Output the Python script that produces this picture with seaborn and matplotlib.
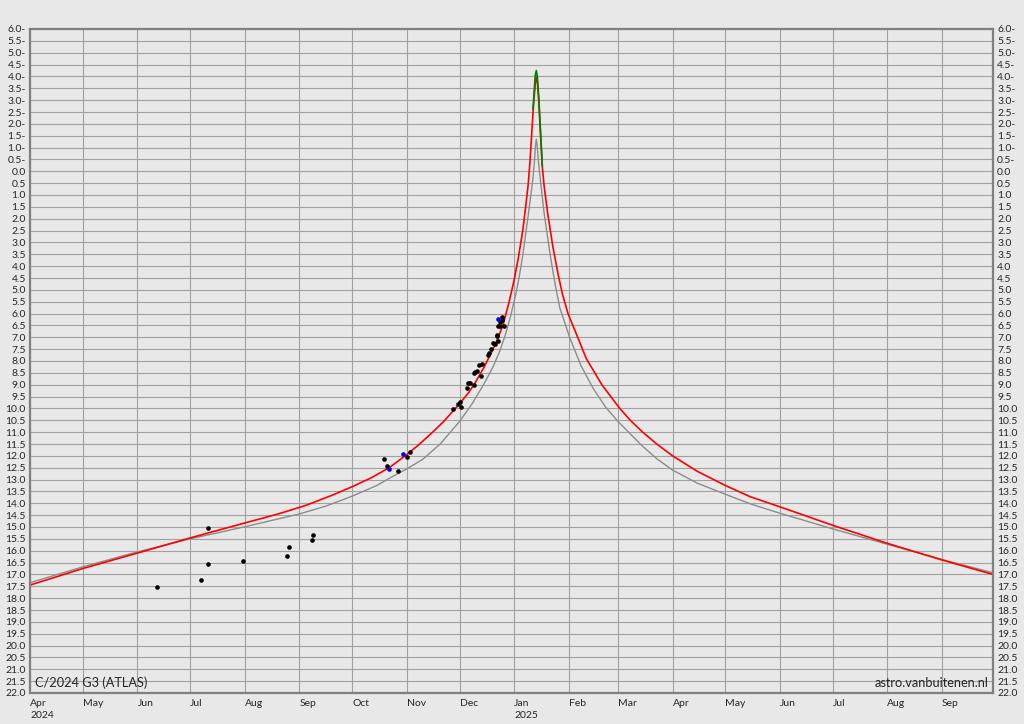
import pandas as pd
import matplotlib
matplotlib.use('Agg')
import matplotlib.pyplot as plt
import seaborn as sns

# Model curve (red): date, magnitude
red_dates = ['2024-04-01', '2024-05-01', '2024-06-01', '2024-07-01', '2024-08-01', '2024-08-20',
             '2024-09-05', '2024-09-20', '2024-10-01', '2024-10-12', '2024-10-22', '2024-11-01',
             '2024-11-08', '2024-11-15', '2024-11-22', '2024-12-01', '2024-12-06', '2024-12-10',
             '2024-12-15', '2024-12-20', '2024-12-23', '2024-12-26', '2024-12-29', '2025-01-01',
             '2025-01-03 12:00', '2025-01-06', '2025-01-08', '2025-01-09', '2025-01-10', '2025-01-11',
             '2025-01-12', '2025-01-13', '2025-01-13 14:00', '2025-01-14 06:00', '2025-01-15',
             '2025-01-16', '2025-01-17', '2025-01-18', '2025-01-20', '2025-01-23',
             '2025-01-26', '2025-01-28 12:00', '2025-01-31 14:00', '2025-02-05', '2025-02-11',
             '2025-02-20', '2025-03-02', '2025-03-08', '2025-03-15', '2025-03-23', '2025-04-01',
             '2025-04-15', '2025-05-01', '2025-05-15', '2025-06-01', '2025-07-01', '2025-08-01',
             '2025-09-01', '2025-09-30']
red_mags = [17.45, 16.75, 16.10, 15.46, 14.83, 14.45,
            14.08, 13.65, 13.30, 12.92, 12.50, 11.95,
            11.52, 11.05, 10.55, 9.80, 9.35, 8.90,
            8.25, 7.50, 7.00, 6.40, 5.55, 4.59,
            3.60, 2.45, 1.20, 0.55, -0.40, -1.60,
            -2.80, -3.70, -4.00, -3.70, -2.95,
            -1.55, -0.20, 0.60, 1.75, 3.18,
            4.35, 5.20, 6.00, 6.80, 7.90,
            9.02, 10.00, 10.50, 11.00, 11.50, 12.00,
            12.65, 13.25, 13.72, 14.15, 14.93, 15.69,
            16.39, 17.00]

# Second model curve (gray)
gray_dates = ['2024-04-01', '2024-05-01', '2024-06-01', '2024-07-01', '2024-08-01', '2024-09-01',
              '2024-09-16', '2024-10-01', '2024-10-15', '2024-10-22', '2024-11-01', '2024-11-10',
              '2024-11-20', '2024-12-01', '2024-12-08', '2024-12-15', '2024-12-20', '2024-12-24',
              '2024-12-27', '2024-12-30', '2025-01-02', '2025-01-04', '2025-01-06',
              '2025-01-08 07:00', '2025-01-10 12:00', '2025-01-11 17:00', '2025-01-12 12:00',
              '2025-01-13 02:00', '2025-01-13 14:00', '2025-01-14 02:00', '2025-01-14 19:00',
              '2025-01-15 22:00', '2025-01-18', '2025-01-21 05:00', '2025-01-24', '2025-01-26 22:00',
              '2025-02-01 12:00', '2025-02-08', '2025-02-14 20:00', '2025-02-22', '2025-03-01',
              '2025-03-15', '2025-03-23', '2025-04-01', '2025-04-15', '2025-05-01', '2025-05-15',
              '2025-06-01', '2025-07-01', '2025-08-01', '2025-09-01', '2025-09-30']
gray_mags = [17.35, 16.68, 16.05, 15.50, 14.99, 14.45,
             14.12, 13.70, 13.25, 12.95, 12.55, 12.15,
             11.50, 10.55, 9.82, 8.95, 8.25, 7.55,
             6.90, 6.10, 5.15, 4.40, 3.50,
             2.25, 1.00, 0.30, -0.40,
             -1.05, -1.35, -1.10, -0.40,
             0.37, 1.75, 3.40, 4.65, 5.75,
             7.00, 8.20, 9.15, 9.95, 10.55,
             11.60, 12.12, 12.60, 13.15, 13.62, 14.02,
             14.42, 15.08, 15.73, 16.37, 16.93]

# Peak segment (green)
green_dates = ['2025-01-11 17:00', '2025-01-12 12:00', '2025-01-13', '2025-01-13 14:00',
               '2025-01-14 04:00', '2025-01-15', '2025-01-16', '2025-01-17']
green_mags = [-2.60, -3.50, -4.05, -4.25, -4.00, -3.10, -1.65, -0.22]

# Observations
obs_dates = ['2024-06-12', '2024-07-07', '2024-07-11', '2024-07-11', '2024-07-31', '2024-08-25',
             '2024-08-26', '2024-09-08', '2024-09-09', '2024-10-19', '2024-10-21', '2024-10-27',
             '2024-11-01', '2024-11-03', '2024-11-27', '2024-11-30', '2024-12-01', '2024-12-02',
             '2024-12-05', '2024-12-06', '2024-12-07', '2024-12-09', '2024-12-09', '2024-12-10',
             '2024-12-11', '2024-12-13', '2024-12-12', '2024-12-14', '2024-12-17', '2024-12-18',
             '2024-12-19', '2024-12-20', '2024-12-21', '2024-12-23', '2024-12-22', '2024-12-22',
             '2024-12-23', '2024-12-24', '2024-12-26', '2024-12-24', '2024-12-25', '2024-12-25']
obs_mags = [17.53, 17.24, 16.54, 15.05, 16.44, 16.24,
            15.85, 15.54, 15.34, 12.14, 12.43, 12.64,
            12.04, 11.84, 10.04, 9.80, 9.74, 9.95,
            9.15, 8.94, 8.93, 9.03, 8.52, 8.45,
            8.44, 8.63, 8.17, 8.14, 7.76, 7.68,
            7.51, 7.26, 7.28, 7.15, 6.91, 6.93,
            6.53, 6.53, 6.53, 6.34, 6.16, 6.27]

blue_dates = ['2024-10-22', '2024-10-30', '2024-12-23']
blue_mags = [12.55, 11.94, 6.24]

month_starts = pd.date_range('2024-04-01', '2025-09-01', freq='MS')
month_labels = ['Apr\n2024', 'May', 'Jun', 'Jul', 'Aug', 'Sep', 'Oct', 'Nov', 'Dec',
                'Jan\n2025', 'Feb', 'Mar', 'Apr', 'May', 'Jun', 'Jul', 'Aug', 'Sep']


def frame(dates, mags):
    return pd.DataFrame({'date': pd.to_datetime(dates, format='ISO8601'), 'mag': mags})


red = frame(red_dates, red_mags)
gray = frame(gray_dates, gray_mags)
green = frame(green_dates, green_mags)
obs = frame(obs_dates, obs_mags)
blue = frame(blue_dates, blue_mags)

sns.set_style('white')
plt.rcParams['font.family'] = ['Lato', 'DejaVu Sans']
bg = '#e8e8e8'

fig = plt.figure(figsize=(10.24, 7.24), dpi=100, facecolor=bg)
ax = fig.add_axes([30 / 1024, 1 - 693 / 724, 963 / 1024, 664 / 724])
ax.set_facecolor(bg)

sns.lineplot(data=gray, x='date', y='mag', color='#8c8c8c', lw=1.0, estimator=None, ax=ax)
sns.lineplot(data=red, x='date', y='mag', color='#ff0000', lw=1.2, estimator=None, ax=ax)
sns.lineplot(data=green, x='date', y='mag', color='#008000', lw=1.2, estimator=None, ax=ax)
sns.scatterplot(data=obs, x='date', y='mag', color='black', s=11, linewidth=0, ax=ax, zorder=5)
sns.scatterplot(data=blue, x='date', y='mag', color='#0000ff', s=11, linewidth=0, ax=ax, zorder=6)

ax.set_xlim(pd.Timestamp('2024-04-01'), pd.Timestamp('2025-09-30'))
ax.set_ylim(22, -6)

yticks = [i * 0.5 for i in range(-12, 45)]
ylabels = [f'{abs(v):.1f}-' if v < 0 else f'{v:.1f}' for v in yticks]
ax.set_yticks(yticks)
ax.set_yticklabels(ylabels, fontsize=7.5)
ax.tick_params(axis='y', length=0, pad=3, labelleft=True, labelright=True)

ax.set_xticks(month_starts)
ax.set_xticklabels(month_labels, fontsize=7.5, ha='left', linespacing=1.5)
ax.tick_params(axis='x', length=0, pad=4)

ax.grid(True, color='#a0a0a0', lw=0.8)
ax.set_axisbelow(True)
for s in ax.spines.values():
    s.set_color('#808080')
    s.set_linewidth(1.6)

ax.set_xlabel('')
ax.set_ylabel('')

ax.text(0.005, 0.006, 'C/2024 G3 (ATLAS)', transform=ax.transAxes, fontsize=9.2,
        ha='left', va='bottom')
ax.text(0.995, 0.006, 'astro.vanbuitenen.nl', transform=ax.transAxes, fontsize=9.2,
        ha='right', va='bottom')

fig.savefig('out.png', dpi=100, facecolor=bg)
